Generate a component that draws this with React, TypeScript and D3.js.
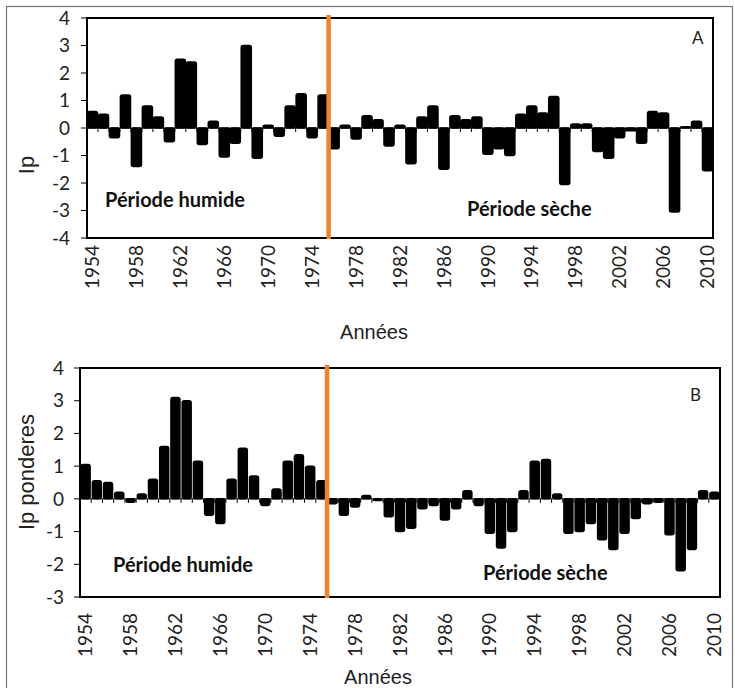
import React from "react";
import * as d3 from "d3";

const years: string[] = [
  "1954","1955","1956","1957","1958","1959","1960","1961","1962","1963",
  "1964","1965","1966","1967","1968","1969","1970","1971","1972","1973",
  "1974","1975","1976","1977","1978","1979","1980","1981","1982","1983",
  "1984","1985","1986","1987","1988","1989","1990","1991","1992","1993",
  "1994","1995","1996","1997","1998","1999","2000","2001","2002","2003",
  "2004","2005","2006","2007","2008","2009","2010",
];

const ipValues: number[] = [
  0.6, 0.5, -0.35, 1.2, -1.4, 0.8, 0.4, -0.5, 2.5, 2.4,
  -0.6, 0.25, -1.05, -0.55, 3.0, -1.1, 0.1, -0.3, 0.8, 1.25,
  -0.35, 1.2, -0.75, 0.1, -0.4, 0.45, 0.3, -0.65, 0.1, -1.3,
  0.4, 0.8, -1.5, 0.45, 0.3, 0.4, -0.95, -0.75, -1.0, 0.5,
  0.8, 0.55, 1.15, -2.05, 0.15, 0.15, -0.85, -1.1, -0.35, -0.1,
  -0.55, 0.6, 0.55, -3.05, 0.05, 0.25, -1.55,
];

const ipPonderes: number[] = [
  1.05, 0.55, 0.5, 0.2, -0.1, 0.15, 0.6, 1.6, 3.1, 3.0,
  1.15, -0.5, -0.75, 0.6, 1.55, 0.7, -0.2, 0.3, 1.15, 1.35,
  1.0, 0.55, -0.15, -0.5, -0.25, 0.1, -0.05, -0.55, -1.0, -0.9,
  -0.3, -0.2, -0.65, -0.3, 0.25, -0.2, -1.05, -1.5, -1.0, 0.25,
  1.15, 1.2, 0.15, -1.05, -1.0, -0.75, -1.25, -1.55, -1.05, -0.6,
  -0.15, -0.1, -1.1, -2.2, -1.55, 0.25, 0.2,
];

const tickYearsShown: string[] = [
  "1954","1958","1962","1966","1970","1974","1978","1982",
  "1986","1990","1994","1998","2002","2006","2010",
];

const yTicksA: number[] = [-4, -3, -2, -1, 0, 1, 2, 3, 4];
const yTicksB: number[] = [-3, -2, -1, 0, 1, 2, 3, 4];

const breakYear = "1976";

type PanelProps = {
  values: number[];
  left: number; right: number; top: number; bottom: number;
  domain: [number, number];
  yTicks: number[];
  padding: number;
  yTitle: string; yTitleY: number; yTitleSize: number;
  letter: string; letterX: number; letterY: number;
  humideX: number; humideY: number;
  secheX: number; secheY: number;
  labelGap: number;
  anneesY: number; anneesX: number;
  yLabelRight: number;
};

const CAL = "Lato, 'Open Sans', sans-serif";
const ARIAL = "'Liberation Sans', Arial, sans-serif";

function Panel(p: PanelProps) {
  const x = d3.scaleBand<string>().domain(years).range([p.left, p.right])
    .paddingInner(p.padding).paddingOuter(p.padding / 2);
  const y = d3.scaleLinear().domain(p.domain).range([p.bottom, p.top]);
  const step = x.step();
  const gap = (step * p.padding) / 2;
  const y0 = y(0);
  const breakX = (x(breakYear) as number) - gap;
  return (
    <g>
      {years.map((yr, i) => {
        const v = p.values[i];
        const bx = x(yr) as number;
        const top = Math.min(y(v), y0);
        const h = Math.abs(y(v) - y0);
        return (
          <rect key={yr} x={bx} y={top} width={x.bandwidth()} height={Math.max(h, 1)}
            fill="#000" stroke="#000" strokeWidth={1.5} rx={2} />
        );
      })}
      <line x1={p.left} x2={p.right} y1={y0} y2={y0} stroke="#000" strokeWidth={1} />
      {years.map((yr) => {
        const tx = (x(yr) as number) - gap;
        return <line key={"t" + yr} x1={tx} x2={tx} y1={y0} y2={y0 + 4} stroke="#000" strokeWidth={1} />;
      })}
      <rect x={p.left} y={p.top} width={p.right - p.left} height={p.bottom - p.top}
        fill="none" stroke="#000" strokeWidth={2} />
      {p.yTicks.map((t) => (
        <g key={"y" + t}>
          <line x1={p.left - 6} x2={p.left} y1={y(t)} y2={y(t)} stroke="#000" strokeWidth={1} />
          <text x={p.yLabelRight} y={y(t)} dy="0.35em" textAnchor="end"
            fontFamily={CAL} fontSize={19} fill="#222">{t}</text>
        </g>
      ))}
      {tickYearsShown.map((yr) => {
        const cx = (x(yr) as number) + x.bandwidth() / 2;
        const ly = p.bottom + p.labelGap;
        return (
          <text key={"x" + yr} transform={`translate(${cx},${ly}) rotate(-90)`}
            textAnchor="end" dy="0.35em" fontFamily={CAL} fontSize={19} fill="#222">{yr}</text>
        );
      })}
      <line x1={breakX} x2={breakX} y1={p.top - 3} y2={p.bottom + 1} stroke="#F4812A" strokeWidth={4.5} />
      <text x={p.humideX} y={p.humideY} fontFamily={CAL} fontWeight={700} fontSize={20} fill="#111">Période humide</text>
      <text x={p.secheX} y={p.secheY} fontFamily={CAL} fontWeight={700} fontSize={20} fill="#111">Période sèche</text>
      <text x={p.letterX} y={p.letterY} fontFamily={CAL} fontSize={17} fill="#222">{p.letter}</text>
      <text transform={`translate(26,${p.yTitleY}) rotate(-90)`} textAnchor="middle" dy="0.35em"
        fontFamily={ARIAL} fontSize={p.yTitleSize} fill="#222">{p.yTitle}</text>
      <text x={p.anneesX} y={p.anneesY} textAnchor="middle" fontFamily={ARIAL} fontSize={20} fill="#222">Années</text>
    </g>
  );
}

export default function App() {
  return (
    <svg width={735} height={688} style={{ position: "absolute", left: 0, top: 0, background: "#fff" }}>
      <rect x={0} y={0} width={735} height={688} fill="#fff" />
      <rect x={6.5} y={6.5} width={726} height={690} fill="none" stroke="#777" strokeWidth={1.2} />
      <Panel values={ipValues} left={87} right={713} top={18} bottom={238} domain={[-4, 4]}
        yTicks={yTicksA} padding={0.08} yTitle="Ip" yTitleY={165} yTitleSize={22}
        letter="A" letterX={692} letterY={44} humideX={105} humideY={207}
        secheX={467} secheY={216} labelGap={7} anneesX={374} anneesY={339} yLabelRight={70} />
      <Panel values={ipPonderes} left={80} right={720} top={368} bottom={597} domain={[-3, 4]}
        yTicks={yTicksB} padding={0.2} yTitle="Ip ponderes" yTitleY={472} yTitleSize={22}
        letter="B" letterX={690} letterY={401} humideX={113} humideY={572}
        secheX={483} secheY={580} labelGap={16} anneesX={378} anneesY={684} yLabelRight={64} />
    </svg>
  );
}
